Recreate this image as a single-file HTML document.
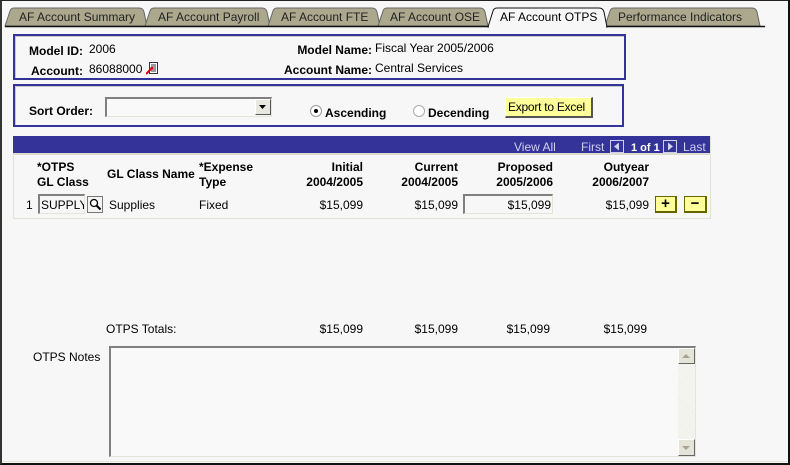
<!DOCTYPE html>
<html><head><meta charset="utf-8">
<style>
*{margin:0;padding:0;box-sizing:border-box}
html,body{width:790px;height:465px;overflow:hidden;background:#f7f7f7}
body{position:relative;font-family:"Liberation Sans",Arial,sans-serif;font-size:12px;color:#000}
.a{position:absolute;white-space:nowrap;line-height:14px}
.b{font-weight:bold}
.r{text-align:right}
.frame{position:absolute;left:0;top:0;width:790px;height:465px;border-top:1px solid #222;border-left:2px solid #333;border-right:2px solid #111;border-bottom:2px solid #111}
.box{position:absolute;border:2px solid #333399;box-shadow:inset 1px 1px 0 #c8c8c8}
.inp{position:absolute;background:#f7f7f7;border-top:2px solid #808080;border-left:2px solid #808080;border-bottom:1px solid #e4e4d8;border-right:1px solid #e4e4d8}
.ybtn{position:absolute;background:#ffff99;border-top:1px solid #fff;border-left:1px solid #fff;border-right:2px solid #555;border-bottom:2px solid #555}
.pm{position:absolute;background:#ffff99;border:1px solid #666600;border-right:2px solid #666600;border-bottom:2px solid #666600;font-weight:bold;text-align:center;font-size:15px;line-height:13px}
.hl{color:#d0d0ee}
</style></head><body>

<!-- tabs -->
<svg class="a" style="left:0;top:0" width="790" height="30">
  <g font-family="Liberation Sans, Arial, sans-serif" font-size="12">
  <path d="M5,26 L10,11 Q11,8 14,8 L139,8 Q143,8 144,12 L147,26 Z" fill="#aca88d" stroke="#666" stroke-width="1"/>
  <path d="M145,26 L150,11 Q151,8 154,8 L262,8 Q266,8 267,12 L270,26 Z" fill="#aca88d" stroke="#666" stroke-width="1"/>
  <path d="M268,26 L273,11 Q274,8 277,8 L372,8 Q376,8 377,12 L380,26 Z" fill="#aca88d" stroke="#666" stroke-width="1"/>
  <path d="M378,26 L383,11 Q384,8 387,8 L480,8 Q484,8 485,12 L488,26 Z" fill="#aca88d" stroke="#666" stroke-width="1"/>
  <path d="M605,26 L610,11 Q611,8 614,8 L752,8 Q756,8 757,12 L760,26 Z" fill="#aca88d" stroke="#666" stroke-width="1"/>
  <line x1="5" y1="26.5" x2="765" y2="26.5" stroke="#111" stroke-width="1.5"/>
  <path d="M488,27 L493,11 Q494,8 497,8 L599,8 Q603,8 604,12 L607,27 Z" fill="#f7f7f7" stroke="#111" stroke-width="1"/>
  <rect x="489" y="26" width="117" height="3" fill="#f7f7f7"/>
  <text x="19" y="21" fill="#222">AF Account Summary</text>
  <text x="158" y="21" fill="#222">AF Account Payroll</text>
  <text x="281" y="21" fill="#222">AF Account FTE</text>
  <text x="390" y="21" fill="#222">AF Account OSE</text>
  <text x="500" y="21" fill="#000">AF Account OTPS</text>
  <text x="618" y="21" fill="#222">Performance Indicators</text>
  </g>
</svg>

<!-- box 1 -->
<div class="box" style="left:13px;top:34px;width:613px;height:46px"></div>
<div class="a b" style="left:29px;top:44px">Model ID:</div>
<div class="a" style="left:89px;top:42px">2006</div>
<div class="a b" style="left:31px;top:64px">Account:</div>
<div class="a" style="left:89px;top:62px">86088000</div>
<svg class="a" style="left:146px;top:62px" width="12" height="13">
  <rect x="3.5" y="0.5" width="8" height="11" fill="#fff" stroke="#334" />
  <line x1="5" y1="3" x2="10" y2="3" stroke="#334"/><line x1="5" y1="5" x2="10" y2="5" stroke="#334"/>
  <line x1="5" y1="7" x2="10" y2="7" stroke="#334"/><line x1="5" y1="9" x2="10" y2="9" stroke="#334"/>
  <path d="M0,12 L6,6" stroke="#d00" stroke-width="2"/><path d="M4,5 L7,5 L7,8 Z" fill="#d00"/>
</svg>
<div class="a b r" style="right:418px;top:43px">Model Name:</div>
<div class="a" style="left:375px;top:41px">Fiscal Year 2005/2006</div>
<div class="a b r" style="right:418px;top:63px">Account Name:</div>
<div class="a" style="left:375px;top:61px">Central Services</div>

<!-- box 2 -->
<div class="box" style="left:13px;top:84px;width:611px;height:43px"></div>
<div class="a b" style="left:29px;top:104px">Sort Order:</div>
<div class="inp" style="left:105px;top:97px;width:167px;height:20px;background:#f9f9f9"></div>
<div style="position:absolute;left:255px;top:99px;width:16px;height:16px;background:#e8e8e0;border-top:1px solid #fff;border-left:1px solid #fff;border-right:1px solid #555;border-bottom:1px solid #555"></div>
<svg class="a" style="left:259px;top:105px" width="8" height="5"><path d="M0,0 L7,0 L3.5,4 Z" fill="#000"/></svg>
<svg class="a" style="left:310px;top:105px" width="13" height="13">
  <circle cx="6" cy="6" r="5.5" fill="#fff" stroke="#999"/><circle cx="6" cy="6" r="2" fill="#000"/>
</svg>
<div class="a b" style="left:325px;top:106px">Ascending</div>
<svg class="a" style="left:413px;top:105px" width="13" height="13">
  <circle cx="6" cy="6" r="5.5" fill="#fff" stroke="#aaa"/>
</svg>
<div class="a b" style="left:428px;top:106px">Decending</div>
<div class="ybtn" style="left:505px;top:97px;width:88px;height:21px"></div>
<div class="a" style="left:508px;top:100px;letter-spacing:-0.25px">Export to Excel</div>

<!-- grid -->
<div style="position:absolute;left:13px;top:136px;width:698px;height:83px;border:1px solid #e0e0d4;border-top:none"></div>
<div style="position:absolute;left:13px;top:136px;width:697px;height:19px;background:#333399;border-bottom:2px solid #dcdcd0"></div>
<div class="a hl" style="left:514px;top:140px">View All</div>
<div class="a hl" style="left:581px;top:140px">First</div>
<svg class="a" style="left:610px;top:140px" width="14" height="13"><rect x="0.5" y="0.5" width="13" height="12" fill="none" stroke="#d0d0ee"/><path d="M9,2.5 L4,6.5 L9,10.5 Z" fill="#d0d0ee"/></svg>
<div class="a b" style="left:631px;top:141px;color:#fff;font-size:11px">1 of 1</div>
<svg class="a" style="left:663px;top:140px" width="14" height="13"><rect x="0.5" y="0.5" width="13" height="12" fill="none" stroke="#d0d0ee"/><path d="M5,2.5 L10,6.5 L5,10.5 Z" fill="#d0d0ee"/></svg>
<div class="a hl" style="left:683px;top:140px">Last</div>

<div class="a b" style="left:37px;top:160px;line-height:15px">*OTPS<br>GL Class</div>
<div class="a b" style="left:107px;top:167px">GL Class Name</div>
<div class="a b" style="left:199px;top:160px;line-height:15px">*Expense<br>Type</div>
<div class="a b r" style="right:427px;top:160px;line-height:15px">Initial<br>2004/2005</div>
<div class="a b r" style="right:332px;top:160px;line-height:15px">Current<br>2004/2005</div>
<div class="a b r" style="right:237px;top:160px;line-height:15px">Proposed<br>2005/2006</div>
<div class="a b r" style="right:141px;top:160px;line-height:15px">Outyear<br>2006/2007</div>

<div class="a" style="left:26px;top:198px">1</div>
<div class="inp" style="left:38px;top:194px;width:47px;height:20px;overflow:hidden"><span style="position:absolute;left:1px;top:2px;line-height:14px">SUPPLY</span></div>
<div style="position:absolute;left:87px;top:196px;width:16px;height:17px;background:#f4f4f4;border:1px solid #777"></div>
<svg class="a" style="left:89px;top:198px" width="13" height="13"><circle cx="5" cy="5" r="3.5" fill="#fff" stroke="#000" stroke-width="1.3"/><line x1="7.5" y1="7.5" x2="11.5" y2="11.5" stroke="#000" stroke-width="2"/></svg>
<div class="a" style="left:109px;top:198px">Supplies</div>
<div class="a" style="left:199px;top:198px">Fixed</div>
<div class="a r" style="right:427px;top:198px">$15,099</div>
<div class="a r" style="right:332px;top:198px">$15,099</div>
<div class="inp" style="left:463px;top:194px;width:90px;height:20px"></div>
<div class="a r" style="right:239px;top:198px">$15,099</div>
<div class="a r" style="right:141px;top:198px">$15,099</div>
<div class="pm" style="left:655px;top:196px;width:22px;height:17px">+</div>
<div class="pm" style="left:684px;top:196px;width:23px;height:17px">&minus;</div>

<!-- totals -->
<div class="a" style="left:106px;top:322px">OTPS Totals:</div>
<div class="a r" style="right:427px;top:322px">$15,099</div>
<div class="a r" style="right:332px;top:322px">$15,099</div>
<div class="a r" style="right:240px;top:322px">$15,099</div>
<div class="a r" style="right:143px;top:322px">$15,099</div>

<!-- notes -->
<div class="a" style="left:33px;top:350px">OTPS Notes</div>
<div class="inp" style="left:109px;top:346px;width:587px;height:111px;background:#f9f9f9"></div>
<div style="position:absolute;left:678px;top:364px;width:17px;height:75px;background:repeating-linear-gradient(45deg,#eeeee8 0 1px,#f8f8f4 1px 2px)"></div>
<div style="position:absolute;left:678px;top:348px;width:17px;height:16px;background:#e4e4d8;border-top:1px solid #fff;border-left:1px solid #fff;border-right:1px solid #666;border-bottom:1px solid #666"></div>
<svg class="a" style="left:682px;top:354px" width="9" height="5"><path d="M0,4 L8,4 L4,0 Z" fill="#a8a490"/></svg>
<div style="position:absolute;left:678px;top:439px;width:17px;height:17px;background:#e4e4d8;border-top:1px solid #fff;border-left:1px solid #fff;border-right:1px solid #666;border-bottom:1px solid #666"></div>
<svg class="a" style="left:682px;top:446px" width="9" height="5"><path d="M0,0 L8,0 L4,4 Z" fill="#a8a490"/></svg>

<div style="position:absolute;left:2px;top:461px;width:786px;height:1px;background:#e4e4d8"></div>
<div class="frame"></div>
</body></html>
